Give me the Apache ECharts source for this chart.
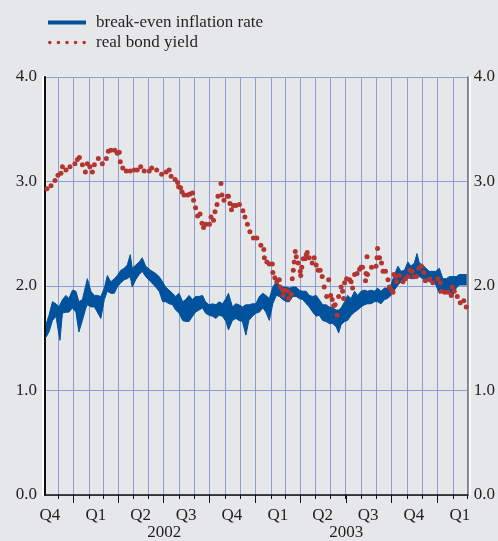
<!DOCTYPE html>
<html>
<head>
<meta charset="utf-8">
<script src="https://cdn.jsdelivr.net/npm/echarts@6/dist/echarts.min.js"></script>
<style>
  html, body { margin: 0; padding: 0; background: #e6e7e9; }
  #chart { width: 498px; height: 541px; }
</style>
</head>
<body>
<div id="chart"></div>
<script>
// x positions are days counted from 2002-01-01
const startDay = -57   // 2001-11-05
const endDay = 791     // 2004-03-02

// break-even inflation rate: daily noise shown as low/high envelope
const beDays = [
  -55, -49, -42, -35, -29, -27, -22, -15, -9, -2,
  5, 11, 18, 25, 28, 35, 42, 48, 55, 62,
  68, 75, 82, 88, 95, 102, 108, 114, 118, 125,
  132, 138, 145, 155, 165, 172, 179, 185, 192, 199,
  205, 212, 219, 225, 232, 239, 245, 252, 259, 265,
  272, 279, 286, 292, 299, 306, 311, 319, 326, 332,
  339, 346, 352, 359, 366,
  373, 380, 386, 393, 400, 407, 413, 420, 427, 433,
  440, 447, 453, 460, 467, 473, 480, 487, 493, 500,
  507, 513, 520, 527, 532, 537, 544, 550, 557, 564,
  570, 577, 584, 590, 597, 604, 610, 617, 624, 630,
  637, 644, 651, 657, 664, 671, 677, 684, 689, 694,
  701, 707, 714, 721, 727, 734, 741, 748, 754, 761,
  768, 774, 781, 789
]
const beHigh = [
  1.63, 1.72, 1.85, 1.83, 1.80, 1.79, 1.87, 1.91, 1.88, 1.96,
  1.95, 1.85, 1.87, 2.01, 2.07, 1.95, 1.91, 1.91, 1.90, 1.98,
  2.10, 2.04, 2.07, 2.10, 2.15, 2.17, 2.20, 2.30, 2.17, 2.20,
  2.23, 2.27, 2.19, 2.15, 2.12, 2.09, 2.04, 1.99, 1.96, 1.93,
  1.90, 1.93, 1.85, 1.87, 1.91, 1.87, 1.90, 1.90, 1.91, 1.85,
  1.82, 1.83, 1.82, 1.85, 1.83, 1.88, 1.93, 1.80, 1.83, 1.82,
  1.80, 1.82, 1.82, 1.83, 1.83,
  1.90, 1.93, 1.91, 1.88, 1.99, 2.04, 2.01, 1.99, 1.99, 1.98,
  1.99, 1.99, 1.96, 1.95, 1.95, 1.91, 1.90, 1.91, 1.87, 1.82,
  1.82, 1.80, 1.79, 1.77, 1.77, 1.79, 1.85, 1.91, 1.88, 1.95,
  1.91, 1.95, 1.96, 1.95, 1.96, 1.95, 1.98, 1.95, 1.98, 1.98,
  2.01, 2.11, 2.19, 2.14, 2.15, 2.23, 2.19, 2.22, 2.31, 2.22,
  2.20, 2.17, 2.14, 2.14, 2.14, 2.17, 2.07, 2.07, 2.09, 2.09,
  2.09, 2.11, 2.11, 2.11
]
const beLow = [
  1.51, 1.56, 1.67, 1.71, 1.53, 1.48, 1.74, 1.75, 1.75, 1.79,
  1.75, 1.56, 1.67, 1.79, 1.82, 1.80, 1.80, 1.75, 1.69, 1.87,
  1.95, 1.93, 1.93, 1.99, 2.03, 2.06, 2.07, 2.09, 1.99, 2.06,
  2.11, 2.14, 2.09, 2.04, 1.99, 1.95, 1.85, 1.85, 1.83, 1.82,
  1.77, 1.74, 1.67, 1.66, 1.66, 1.71, 1.75, 1.77, 1.79, 1.74,
  1.72, 1.71, 1.69, 1.72, 1.71, 1.66, 1.58, 1.67, 1.69, 1.67,
  1.66, 1.53, 1.67, 1.71, 1.74,
  1.75, 1.79, 1.75, 1.67, 1.83, 1.91, 1.90, 1.87, 1.85, 1.85,
  1.90, 1.90, 1.88, 1.87, 1.83, 1.80, 1.75, 1.71, 1.72, 1.67,
  1.66, 1.64, 1.64, 1.61, 1.55, 1.63, 1.66, 1.67, 1.72, 1.75,
  1.77, 1.80, 1.82, 1.83, 1.83, 1.85, 1.85, 1.83, 1.87, 1.88,
  1.91, 1.96, 2.01, 2.04, 2.04, 2.09, 2.07, 2.07, 2.09, 2.09,
  2.07, 2.06, 2.04, 2.04, 2.01, 1.93, 1.95, 1.96, 1.95, 1.91,
  1.98, 2.01, 2.01, 2.01
]

// real bond yield
const bondDays = [
  -53, -45, -37, -31, -25, -22, -15, -7, 3, 8,
  12, 18, 24, 28, 33, 38, 42, 50, 58, 66,
  70, 75, 83, 88, 92, 94, 99, 106, 114, 122,
  128, 135, 142, 152, 157, 167, 177, 186, 192, 196,
  204, 209, 211, 215, 218, 222, 229, 234, 239, 241,
  245, 249, 254, 258, 261, 266, 273, 276, 281, 284,
  288, 290, 296, 298, 302, 309, 311, 314, 317, 321,
  326, 333, 340, 344, 349, 354, 361, 368, 376, 382,
  383, 388, 393, 399, 400, 404, 408, 413, 415, 420,
  421, 425, 430, 432, 437, 439, 441, 443, 445, 447,
  451, 455, 456, 458, 461, 465, 467, 469, 473, 479,
  483, 487, 491, 495, 499, 503, 508, 512, 516, 519,
  522, 525, 529, 532, 537, 540, 542, 544, 548, 554,
  557, 560, 564, 569, 574, 577, 580, 586, 587, 589,
  590, 598, 607, 609, 610, 614, 618, 621, 626, 631,
  634, 638, 641, 643, 646, 648, 654, 661, 666, 671,
  675, 679, 683, 688, 693, 698, 703, 706, 715, 721,
  731, 736, 738, 745, 752, 758, 760, 764, 770, 776,
  783, 788
]
const bondYield = [
  2.93, 2.96, 3.01, 3.06, 3.08, 3.14, 3.11, 3.14, 3.17, 3.21,
  3.23, 3.16, 3.09, 3.17, 3.14, 3.09, 3.16, 3.22, 3.17, 3.22,
  3.29, 3.30, 3.30, 3.27, 3.28, 3.19, 3.13, 3.10, 3.10, 3.11,
  3.11, 3.14, 3.10, 3.10, 3.13, 3.11, 3.07, 3.09, 3.11, 3.05,
  3.02, 2.99, 2.95, 2.94, 2.90, 2.87, 2.87, 2.88, 2.89, 2.82,
  2.75, 2.67, 2.69, 2.60, 2.56, 2.59, 2.59, 2.66, 2.63, 2.71,
  2.78, 2.86, 2.98, 2.87, 2.82, 2.86, 2.86, 2.79, 2.73, 2.77,
  2.77, 2.78, 2.72, 2.66, 2.59, 2.52, 2.46, 2.46, 2.39, 2.35,
  2.27, 2.23, 2.21, 2.21, 2.13, 2.08, 2.04, 2.06, 1.99, 1.96,
  1.91, 1.96, 1.95, 1.88, 1.92, 2.07, 2.15, 2.23, 2.33, 2.28,
  2.22, 2.14, 2.10, 2.18, 2.26, 2.26, 2.30, 2.32, 2.27, 2.22,
  2.27, 2.20, 2.15, 2.15, 2.09, 1.99, 1.90, 2.06, 1.91, 1.87,
  1.81, 1.82, 1.72, 1.90, 1.99, 1.95, 1.88, 2.03, 2.07, 2.06,
  2.04, 1.98, 2.11, 2.12, 2.16, 2.18, 2.18, 2.05, 2.12, 2.28,
  2.11, 2.18, 2.19, 2.27, 2.36, 2.27, 2.22, 2.14, 2.14, 2.06,
  1.99, 1.96, 1.94, 2.11, 2.09, 2.04, 2.10, 2.04, 2.07, 2.09,
  2.15, 2.14, 2.09, 2.09, 2.17, 2.19, 2.13, 2.05, 2.07, 2.03,
  2.07, 2.03, 1.95, 1.94, 1.94, 1.91, 1.99, 1.95, 1.90, 1.84,
  1.86, 1.80
]

// tick labels
const quarterMids = ['2001-11-15', '2002-02-15', '2002-05-16', '2002-08-15', '2002-11-15',
  '2003-02-15', '2003-05-16', '2003-08-15', '2003-11-15', '2004-02-15']
const quarterLabels = ['Q4', 'Q1', 'Q2', 'Q3', 'Q4', 'Q1', 'Q2', 'Q3', 'Q4', 'Q1']
const yearMids = ['2002-07-02', '2003-07-02']
const yearLabels = ['2002', '2003']

const BLUE = '#00529c'
const RED = '#b3352f'
const GRID = '#8c9cd4'
const TEXT = '#231f20'
const FONT = '"Liberation Serif", "DejaVu Serif", serif'

function dayStr(d) {
  return new Date(Date.UTC(2002, 0, 1 + d)).toISOString().slice(0, 10)
}

const days = []
for (let d = startDay; d <= endDay; d++) days.push(dayStr(d))

const isMonthStart = (i, v) => v.slice(8) === '01'
const isQuarterStart = (i, v) => v.slice(8) === '01' && ['01', '04', '07', '10'].includes(v.slice(5, 7))

const lowData = beDays.map((d, i) => [dayStr(d), beLow[i]])
const bandData = beDays.map((d, i) => [dayStr(d), +(beHigh[i] - beLow[i]).toFixed(2)])
const bondData = bondDays.map((d, i) => [dayStr(d), bondYield[i]])

const dotIcon = 'path://' + [0.2, 8.7, 17.2, 25.7, 34.2].map(x =>
  'M' + x + ',2a1.8,1.8 0 1,0 3.6,0a1.8,1.8 0 1,0 -3.6,0Z').join(' ')

const gridBox = { left: 45, right: 30, top: 77, bottom: 46 }
const labelFont = { fontFamily: FONT, fontSize: 17, color: TEXT }

// an empty category axis placed on one of the overlaid grids
function extraAxis(gridIndex, extra) {
  return Object.assign({
    type: 'category',
    gridIndex,
    data: days,
    boundaryGap: false,
    position: 'bottom',
    axisLine: { show: false },
    axisTick: { show: false },
    splitLine: { show: false },
    axisLabel: { show: false }
  }, extra)
}
function hiddenY(gridIndex) {
  return { type: 'value', gridIndex, min: 0, max: 4, show: false }
}

const chart = echarts.init(document.getElementById('chart'))

chart.setOption({
  animation: false,
  backgroundColor: '#e6e7e9',
  textStyle: { fontFamily: FONT },
  legend: {
    orient: 'vertical',
    left: 43,
    top: 9,
    itemWidth: 38,
    itemHeight: 4,
    itemGap: 3,
    textStyle: { fontFamily: FONT, fontSize: 17, color: TEXT, padding: [0, 0, 0, 5] },
    data: [
      { name: 'break-even inflation rate', icon: 'path://M0,0H38V4H0Z' },
      { name: 'real bond yield', icon: dotIcon }
    ]
  },
  grid: [gridBox, gridBox, gridBox],
  xAxis: [
    {
      type: 'category',
      gridIndex: 0,
      data: days,
      boundaryGap: false,
      position: 'bottom',
      axisLine: { lineStyle: { color: '#111', width: 1.5 } },
      axisTick: { show: true, interval: isMonthStart, length: 4, lineStyle: { color: '#111' } },
      splitLine: { show: true, interval: isMonthStart, lineStyle: { color: GRID, width: 1 } },
      axisLabel: Object.assign({
        interval: (i, v) => quarterMids.includes(v),
        formatter: v => {
          const k = quarterMids.indexOf(v)
          return k >= 0 ? quarterLabels[k] : ''
        },
        margin: 12
      }, labelFont)
    },
    extraAxis(1, {
      axisTick: { show: true, interval: isQuarterStart, length: 8, lineStyle: { color: '#111' } }
    }),
    extraAxis(2, {
      axisLabel: Object.assign({
        show: true,
        interval: (i, v) => yearMids.includes(v),
        formatter: v => {
          const k = yearMids.indexOf(v)
          return k >= 0 ? yearLabels[k] : ''
        },
        margin: 32
      }, labelFont)
    })
  ],
  yAxis: [
    {
      type: 'value',
      gridIndex: 0,
      min: 0,
      max: 4,
      interval: 1,
      position: 'left',
      axisLine: {
        show: true,
        lineStyle: { color: '#111', width: 2, shadowColor: '#ffffff', shadowOffsetX: -2, shadowBlur: 0 }
      },
      axisTick: { show: false },
      splitLine: { show: true, lineStyle: { color: GRID, width: 1 } },
      axisLabel: Object.assign({
        formatter: v => v.toFixed(1),
        margin: 8,
        padding: [0, 0, 6, 0]
      }, labelFont)
    },
    {
      type: 'value',
      gridIndex: 0,
      min: 0,
      max: 4,
      interval: 1,
      position: 'right',
      axisLine: {
        show: true,
        lineStyle: { color: '#777', width: 1.5, shadowColor: '#ffffff', shadowOffsetX: 2, shadowBlur: 0 }
      },
      axisTick: { show: false },
      splitLine: { show: false },
      axisLabel: Object.assign({
        formatter: v => v.toFixed(1),
        margin: 6,
        padding: [0, 0, 6, 0]
      }, labelFont)
    },
    hiddenY(1),
    hiddenY(2)
  ],
  series: [
    {
      name: 'be-low',
      type: 'line',
      stack: 'be',
      data: lowData,
      symbol: 'none',
      silent: true,
      itemStyle: { color: BLUE },
      lineStyle: { color: BLUE, width: 1 }
    },
    {
      name: 'break-even inflation rate',
      type: 'line',
      stack: 'be',
      data: bandData,
      symbol: 'none',
      itemStyle: { color: BLUE },
      lineStyle: { color: BLUE, width: 1 },
      areaStyle: { color: BLUE, opacity: 1 }
    },
    {
      name: 'real bond yield',
      type: 'line',
      data: bondData,
      symbol: 'circle',
      symbolSize: 5,
      showSymbol: true,
      showAllSymbol: true,
      itemStyle: { color: RED },
      lineStyle: { width: 0, opacity: 0 }
    }
  ]
})
</script>
</body>
</html>
